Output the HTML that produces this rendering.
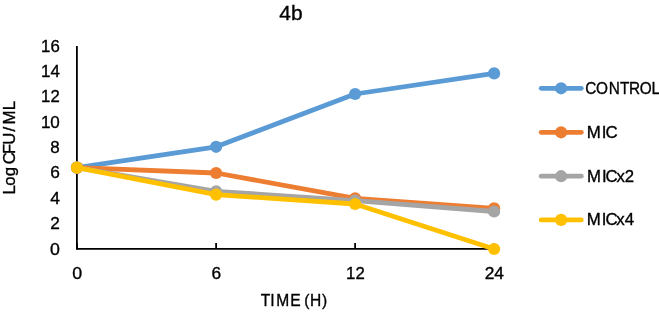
<!DOCTYPE html>
<html lang="en">
<head>
<meta charset="utf-8">
<title>4b</title>
<style>
html,body{margin:0;padding:0;background:#fff;}
body{width:659px;height:312px;overflow:hidden;}
svg{display:block;will-change:transform;}
text{font-family:"Liberation Sans",sans-serif;fill:#000;stroke:#000;stroke-width:0.35px;}
</style>
</head>
<body>
<svg width="659" height="312" viewBox="0 0 659 312">
<rect x="0" y="0" width="659" height="312" fill="#ffffff"/>
<g stroke="#000" stroke-width="1.8" fill="none" stroke-linecap="butt">
<line x1="76.9" y1="46" x2="76.9" y2="249.6"/>
<line x1="76" y1="248.8" x2="494.1" y2="248.8"/>
<line x1="77.0" y1="243" x2="77.0" y2="248.8"/>
<line x1="216.1" y1="243" x2="216.1" y2="248.8"/>
<line x1="355.1" y1="243" x2="355.1" y2="248.8"/>
<line x1="494.1" y1="243" x2="494.1" y2="248.8"/>
</g>
<polyline points="77.0,167.6 216.1,146.8 355.1,94.0 494.1,73.4" fill="none" stroke="#5b9bd5" stroke-width="4.8" stroke-linecap="round" stroke-linejoin="round"/>
<circle cx="77.0" cy="167.6" r="6.1" fill="#5b9bd5"/>
<circle cx="216.1" cy="146.8" r="6.1" fill="#5b9bd5"/>
<circle cx="355.1" cy="94.0" r="6.1" fill="#5b9bd5"/>
<circle cx="494.1" cy="73.4" r="6.1" fill="#5b9bd5"/>
<polyline points="77.0,167.6 216.1,173.0 355.1,198.4 494.1,208.3" fill="none" stroke="#ed7d31" stroke-width="4.8" stroke-linecap="round" stroke-linejoin="round"/>
<circle cx="77.0" cy="167.6" r="6.1" fill="#ed7d31"/>
<circle cx="216.1" cy="173.0" r="6.1" fill="#ed7d31"/>
<circle cx="355.1" cy="198.4" r="6.1" fill="#ed7d31"/>
<circle cx="494.1" cy="208.3" r="6.1" fill="#ed7d31"/>
<polyline points="77.0,167.6 216.1,191.3 355.1,200.6 494.1,211.5" fill="none" stroke="#a5a5a5" stroke-width="4.8" stroke-linecap="round" stroke-linejoin="round"/>
<circle cx="77.0" cy="167.6" r="6.1" fill="#a5a5a5"/>
<circle cx="216.1" cy="191.3" r="6.1" fill="#a5a5a5"/>
<circle cx="355.1" cy="200.6" r="6.1" fill="#a5a5a5"/>
<circle cx="494.1" cy="211.5" r="6.1" fill="#a5a5a5"/>
<polyline points="77.0,167.6 216.1,194.6 355.1,204.0 494.1,249.0" fill="none" stroke="#ffc000" stroke-width="4.8" stroke-linecap="round" stroke-linejoin="round"/>
<circle cx="77.0" cy="167.6" r="6.1" fill="#ffc000"/>
<circle cx="216.1" cy="194.6" r="6.1" fill="#ffc000"/>
<circle cx="355.1" cy="204.0" r="6.1" fill="#ffc000"/>
<circle cx="494.1" cy="249.0" r="6.1" fill="#ffc000"/>
<text transform="scale(1.0215,1)" x="49.07" y="254.60" font-size="17.4">0</text>
<text transform="scale(0.9879,1)" x="50.93" y="229.22" font-size="17.4">2</text>
<text transform="scale(1.0075,1)" x="49.88" y="203.84" font-size="17.4">4</text>
<text transform="scale(0.9935,1)" x="50.63" y="178.46" font-size="17.4">6</text>
<text transform="scale(0.9759,1)" x="51.59" y="153.08" font-size="17.4">8</text>
<text transform="scale(0.9802,1)" x="41.85 51.34" y="127.70" font-size="17.4">10</text>
<text transform="scale(0.9619,1)" x="42.74 52.43" y="102.32" font-size="17.4">12</text>
<text transform="scale(0.9738,1)" x="42.15 51.77" y="76.94" font-size="17.4">14</text>
<text transform="scale(0.9650,1)" x="42.59 52.27" y="51.56" font-size="17.4">16</text>
<text transform="scale(1.0215,1)" x="70.74" y="278.60" font-size="17.4">0</text>
<text transform="scale(0.9935,1)" x="212.91" y="278.60" font-size="17.4">6</text>
<text transform="scale(0.9619,1)" x="359.78 369.47" y="278.60" font-size="17.4">12</text>
<text transform="scale(0.9982,1)" x="485.65 495.16" y="278.60" font-size="17.4">24</text>
<text transform="scale(1.0026,1)" x="278.53 290.14" y="19.60" font-size="20.9">4b</text>
<text transform="scale(0.8955,1)" x="291.29 301.89 308.60 324.01 334.94 339.70 346.18 359.47" y="306.10" font-size="17.4">TIME (H)</text>
<text transform="translate(14.9,147.8) rotate(-90) scale(0.9633,1)" x="-48.57 -39.46 -29.46 -20.39 -17.10 -6.52 3.17 16.98 24.20 39.03" y="0.00" font-size="17.4">Log CFU/ML</text>
<line x1="541.2" y1="88.3" x2="581.3" y2="88.3" stroke="#5b9bd5" stroke-width="4.8" stroke-linecap="round"/>
<circle cx="561.1" cy="88.3" r="6.1" fill="#5b9bd5"/>
<text transform="scale(0.8833,1)" x="662.67 674.80 689.09 702.04 712.25 724.21 737.69" y="93.90" font-size="17.4">CONTROL</text>
<line x1="541.2" y1="132.3" x2="581.3" y2="132.3" stroke="#ed7d31" stroke-width="4.8" stroke-linecap="round"/>
<circle cx="561.1" cy="132.3" r="6.1" fill="#ed7d31"/>
<text transform="scale(0.9701,1)" x="604.93 620.41 624.11" y="137.85" font-size="17.4">MIC</text>
<line x1="541.2" y1="176.2" x2="581.3" y2="176.2" stroke="#a5a5a5" stroke-width="4.8" stroke-linecap="round"/>
<circle cx="561.1" cy="176.2" r="6.1" fill="#a5a5a5"/>
<text transform="scale(0.9637,1)" x="609.03 624.58 628.34 639.61 648.25" y="181.80" font-size="17.4">MICx2</text>
<line x1="541.2" y1="219.9" x2="581.3" y2="219.9" stroke="#ffc000" stroke-width="4.8" stroke-linecap="round"/>
<circle cx="561.1" cy="219.9" r="6.1" fill="#ffc000"/>
<text transform="scale(0.9683,1)" x="606.07 621.57 625.29 636.52 645.16" y="225.45" font-size="17.4">MICx4</text>
</svg>
</body>
</html>
